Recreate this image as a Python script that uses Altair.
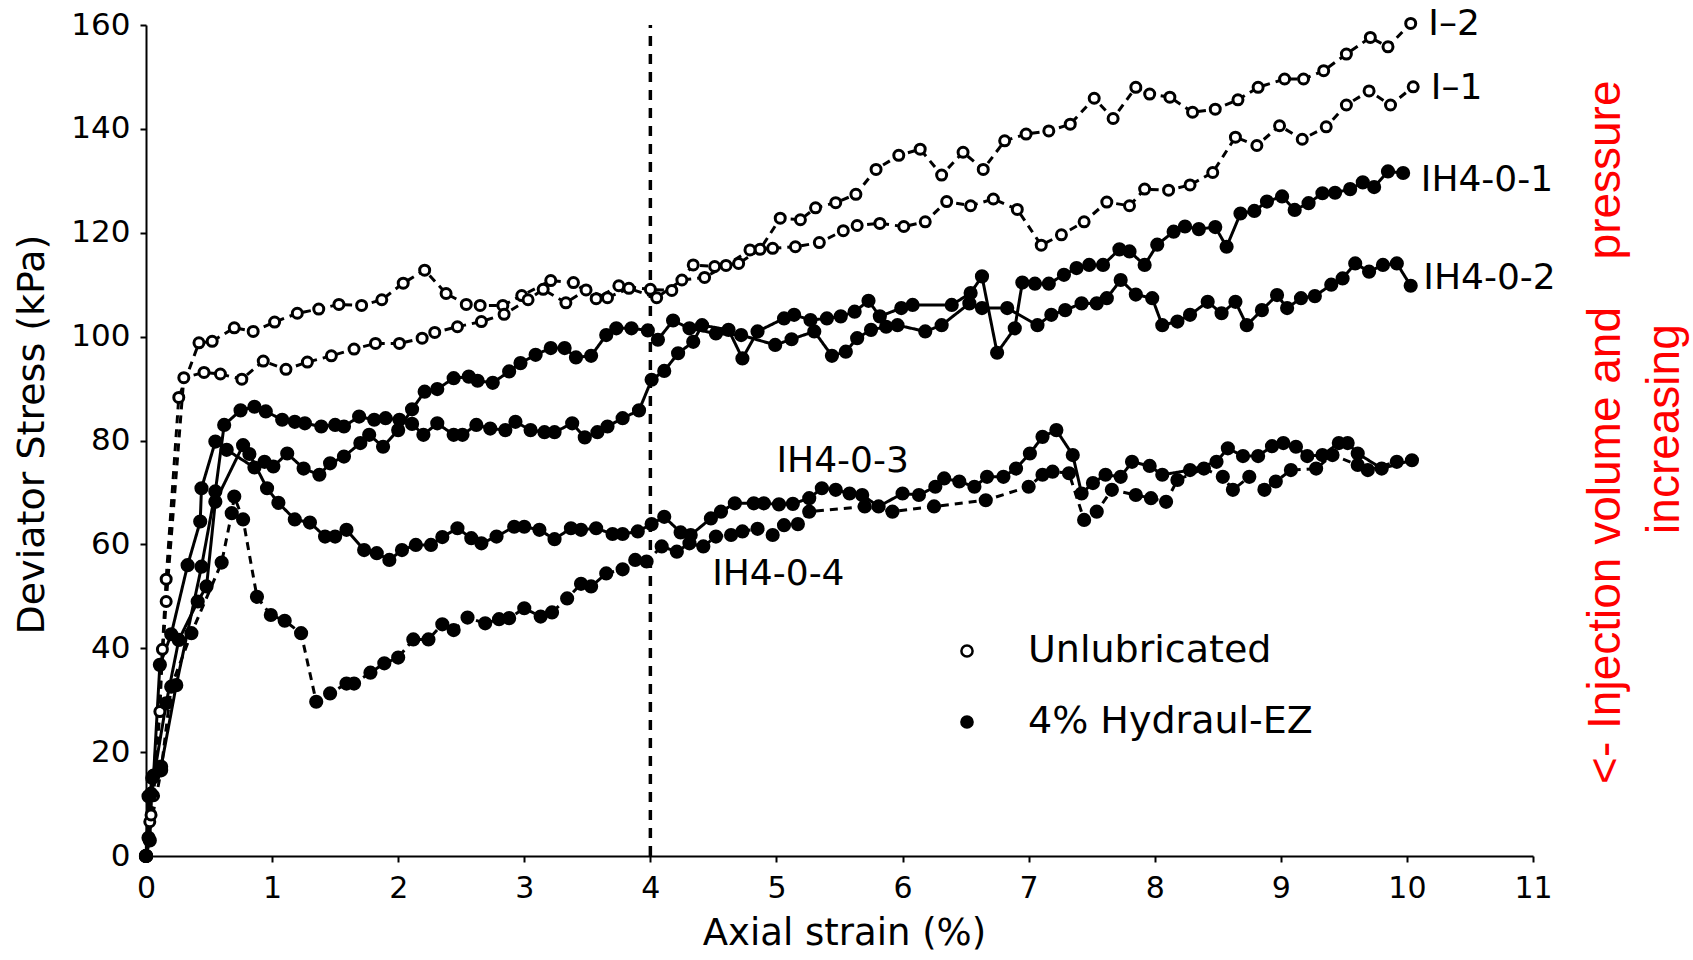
import altair as alt
import pandas as pd

# ---------------- data ----------------
I2_x = [0, 0.03, 0.06, 0.11, 0.13, 0.16, 0.26, 0.42, 0.525, 0.70, 0.85, 1.02, 1.20, 1.37, 1.53, 1.71, 1.87, 2.04, 2.21,
        2.38, 2.54, 2.65, 2.83, 2.98, 3.21, 3.39, 3.57, 3.75, 4.00, 4.17, 4.34, 4.51, 4.70, 4.87, 5.03, 5.19, 5.31, 5.47,
        5.63, 5.79, 5.97, 6.14, 6.31, 6.48, 6.64, 6.81, 6.98, 7.16, 7.33, 7.52, 7.67, 7.85, 7.96, 8.12, 8.30, 8.48, 8.66,
        8.82, 9.03, 9.18, 9.34, 9.52, 9.71, 9.85, 10.03]
I2_y = [0, 6.6, 11.6, 27.8, 39.8, 53.3, 88.3, 98.8, 99.1, 101.7, 101.0, 102.8, 104.5, 105.3, 106.2, 106.0, 107.1, 110.3, 112.8,
        108.3, 106.2, 106.0, 106.0, 107.9, 110.8, 110.4, 107.3, 109.8, 109.1, 108.9, 113.8, 113.5, 114.1, 116.8, 122.8, 122.5,
        124.8, 125.8, 127.4, 132.2, 134.9, 136.1, 131.1, 135.5, 132.2, 137.7, 139.0, 139.6, 140.9, 145.9, 142.0, 148.0, 146.7,
        146.1, 143.2, 143.8, 145.6, 148.0, 149.6, 149.6, 151.2, 154.4, 157.6, 155.8, 160.3]

I1_x = [0, 0.04, 0.16, 0.30, 0.46, 0.59, 0.76, 0.93, 1.11, 1.28, 1.47, 1.65, 1.82, 2.01, 2.19, 2.29, 2.47, 2.66, 2.84, 3.03,
        3.15, 3.33, 3.49, 3.66, 3.83, 4.05, 4.25, 4.43, 4.60, 4.79, 4.97, 5.15, 5.34, 5.53, 5.64, 5.82, 6.01, 6.18, 6.35, 6.54,
        6.72, 6.91, 7.10, 7.26, 7.44, 7.62, 7.80, 7.92, 8.11, 8.28, 8.46, 8.64, 8.81, 8.99, 9.17, 9.36, 9.52, 9.70, 9.87, 10.05]
I1_y = [0, 7.9, 49.0, 92.1, 93.1, 92.8, 91.8, 95.3, 93.7, 95.1, 96.3, 97.6, 98.7, 98.7, 99.7, 100.8, 101.9, 102.9, 104.3, 107.1,
        109.1, 106.5, 109.0, 107.5, 109.3, 107.5, 110.9, 111.4, 113.7, 116.7, 117.0, 117.3, 118.1, 120.4, 121.4, 121.8, 121.2,
        122.1, 126.0, 125.2, 126.5, 124.5, 117.6, 119.6, 122.1, 125.9, 125.2, 128.4, 128.2, 129.2, 131.6, 138.4, 136.8, 140.6,
        138.0, 140.4, 144.6, 147.3, 144.6, 148.1]

H1_x = [0, 0.03, 0.05, 0.12, 0.24, 0.44, 0.55, 0.62, 0.75, 0.86, 0.95, 1.08, 1.18, 1.26, 1.39, 1.50, 1.57, 1.69, 1.81, 1.90,
        2.01, 2.11, 2.20, 2.31, 2.44, 2.51, 2.62, 2.73, 2.85, 2.93, 3.05, 3.16, 3.24, 3.38, 3.48, 3.58, 3.66, 3.78, 3.91, 4.01,
        4.11, 4.22, 4.34, 4.41, 4.62, 4.73, 4.85, 5.06, 5.14, 5.27, 5.40, 5.51, 5.62, 5.73, 5.82, 5.99, 6.08, 6.39, 6.54, 6.63,
        6.75, 6.89, 6.95, 7.05, 7.16, 7.28, 7.38, 7.48, 7.59, 7.72, 7.80, 7.92, 8.02, 8.15, 8.24, 8.35, 8.48, 8.57, 8.68, 8.79,
        8.89, 9.01, 9.11, 9.22, 9.33, 9.43, 9.55, 9.65, 9.74, 9.85, 9.97]
H1_y = [0, 3.0, 15.0, 17.2, 32.9, 55.7, 70.2, 83.0, 85.8, 86.5, 85.6, 84.0, 83.6, 83.3, 82.7, 83.0, 82.7, 84.6, 84.0, 84.3,
        84.0, 83.2, 81.1, 83.3, 81.1, 81.1, 83.0, 82.3, 82.0, 83.6, 82.0, 81.6, 81.6, 83.3, 80.6, 81.6, 82.7, 84.3, 85.8, 91.7,
        93.4, 96.8, 99.0, 102.2, 101.3, 95.8, 101.0, 103.5, 104.2, 103.2, 103.5, 103.9, 104.8, 106.9, 103.9, 105.5, 106.1, 106.1,
        108.4, 111.6, 96.9, 101.6, 110.4, 110.2, 110.2, 111.9, 113.2, 113.8, 113.8, 116.8, 116.4, 113.8, 117.7, 120.2, 121.2,
        120.7, 121.1, 117.3, 123.7, 124.2, 126.0, 127.0, 124.4, 125.7, 127.6, 127.7, 128.4, 129.7, 128.8, 131.8, 131.5]

H2_x = [0, 0.02, 0.06, 0.11, 0.20, 0.33, 0.43, 0.44, 0.55, 0.64, 0.86, 0.94, 1.01, 1.12, 1.25, 1.375, 1.46, 1.57, 1.70, 1.77,
        1.88, 2.00, 2.11, 2.21, 2.31, 2.44, 2.56, 2.63, 2.75, 2.88, 2.97, 3.09, 3.21, 3.32, 3.41, 3.53, 3.65, 3.73, 3.85, 3.98,
        4.06, 4.18, 4.31, 4.52, 4.72, 4.99, 5.12, 5.30, 5.44, 5.55, 5.64, 5.75, 5.87, 5.96, 6.18, 6.31, 6.53, 6.63, 6.83, 7.07,
        7.18, 7.29, 7.42, 7.54, 7.62, 7.73, 7.85, 7.98, 8.06, 8.18, 8.28, 8.42, 8.53, 8.64, 8.73, 8.85, 8.97, 9.05, 9.16, 9.27,
        9.40, 9.49, 9.59, 9.70, 9.81, 9.92, 10.03]
H2_y = [0, 11.5, 15.5, 36.8, 42.7, 56.0, 64.4, 70.8, 79.8, 78.2, 74.8, 75.9, 75.0, 77.5, 74.6, 73.4, 75.6, 76.9, 79.5, 81.1,
        78.8, 82.0, 86.0, 89.4, 89.9, 92.0, 92.3, 91.5, 91.1, 93.3, 94.9, 96.5, 97.8, 97.8, 96.0, 96.3, 100.3, 101.6, 101.6,
        101.2, 99.4, 103.1, 101.6, 100.6, 100.3, 98.4, 99.5, 101.0, 96.3, 97.1, 99.7, 101.3, 101.9, 102.2, 101.0, 102.2, 106.4,
        105.5, 105.5, 102.2, 104.2, 105.1, 106.4, 106.4, 107.4, 110.9, 108.1, 107.4, 102.2, 102.9, 104.2, 106.7, 104.5, 106.7,
        102.2, 105.1, 108.0, 105.5, 107.4, 107.8, 110.0, 111.2, 114.1, 112.5, 113.8, 114.1, 109.8]

H3_x = [0, 0.04, 0.16, 0.26, 0.41, 0.48, 0.55, 0.77, 0.82, 0.96, 1.05, 1.18, 1.30, 1.42, 1.50, 1.59, 1.73, 1.83, 1.93, 2.03,
        2.14, 2.26, 2.35, 2.47, 2.58, 2.66, 2.78, 2.92, 3.00, 3.12, 3.24, 3.37, 3.45, 3.57, 3.70, 3.78, 3.90, 4.01, 4.11, 4.24,
        4.32, 4.48, 4.56, 4.67, 4.82, 4.90, 5.02, 5.13, 5.26, 5.36, 5.47, 5.58, 5.68, 5.81, 6.00, 6.13, 6.26, 6.33, 6.45, 6.57,
        6.67, 6.80, 6.90, 7.01, 7.11, 7.22, 7.35, 7.42, 7.51, 7.61, 7.73, 7.82, 7.96, 8.06, 8.28, 8.49, 8.58, 8.70, 8.82, 8.93,
        9.02, 9.12, 9.21, 9.33, 9.46, 9.53, 9.61, 9.80, 10.04]
H3_y = [0, 12.0, 29.4, 41.6, 49.0, 51.9, 68.2, 79.1, 77.4, 70.8, 68.0, 64.8, 64.2, 61.5, 61.5, 62.8, 58.9, 58.3, 57.0, 58.9,
        59.9, 59.9, 61.4, 63.1, 61.2, 60.2, 61.5, 63.4, 63.4, 62.8, 61.0, 63.1, 62.8, 63.1, 62.0, 62.0, 62.5, 63.9, 65.3, 62.3,
        61.8, 65.0, 66.3, 67.9, 67.9, 67.9, 67.7, 67.8, 68.9, 70.8, 70.5, 69.8, 69.5, 67.3, 69.8, 69.5, 71.1, 72.7, 72.1, 71.1,
        73.0, 73.0, 74.6, 77.5, 80.7, 82.0, 77.2, 69.8, 71.8, 73.4, 73.0, 75.9, 75.1, 73.4, 74.3, 75.9, 78.5, 77.0, 77.0, 78.9,
        79.5, 78.8, 77.0, 77.2, 79.5, 79.5, 77.5, 74.6, 76.2]

H4_x = [0, 0.02, 0.12, 0.20, 0.36, 0.60, 0.68, 0.70, 0.77, 0.88, 0.99, 1.10, 1.23, 1.35, 1.46, 1.59, 1.65, 1.78, 1.89, 2.00,
        2.12, 2.24, 2.35, 2.44, 2.55, 2.69, 2.80, 2.88, 3.00, 3.13, 3.22, 3.34, 3.45, 3.53, 3.65, 3.78, 3.88, 3.97, 4.09, 4.21,
        4.31, 4.42, 4.52, 4.64, 4.73, 4.85, 4.97, 5.06, 5.17, 5.26, 5.70, 5.92, 6.25, 6.66, 7.00, 7.11, 7.19, 7.32, 7.44, 7.54,
        7.66, 7.85, 7.97, 8.09, 8.18, 8.39, 8.54, 8.62, 8.75, 8.87, 8.96, 9.08, 9.28, 9.41, 9.61, 9.69, 9.92]
H4_y = [0, 3.5, 16.5, 32.6, 42.9, 56.5, 66.0, 69.2, 64.8, 49.9, 46.4, 45.3, 42.9, 29.7, 31.3, 33.2, 33.2, 35.3, 37.1, 38.2,
        41.7, 41.7, 44.6, 43.5, 45.9, 44.8, 45.6, 45.8, 47.7, 46.1, 46.9, 49.6, 52.4, 51.9, 54.4, 55.2, 57.0, 56.7, 59.6, 58.6,
        60.2, 59.6, 61.5, 61.8, 62.5, 63.0, 61.8, 63.7, 63.9, 66.3, 67.3, 66.3, 67.3, 68.5, 71.1, 73.4, 74.0, 73.7, 64.7, 66.3,
        70.5, 69.5, 68.9, 68.2, 72.4, 74.6, 73.0, 70.5, 73.0, 70.5, 72.1, 74.3, 74.6, 77.2, 75.3, 74.3, 75.9]

series_names = ["I-2", "I-1", "IH4-0-1", "IH4-0-2", "IH4-0-3", "IH4-0-4"]
series_groups = ["Unlubricated", "Unlubricated", "4% Hydraul-EZ", "4% Hydraul-EZ", "4% Hydraul-EZ", "4% Hydraul-EZ"]
series_styles = ["dashed", "dashed", "solid", "solid", "solid", "dashed"]
series_xy = [(I2_x, I2_y), (I1_x, I1_y), (H1_x, H1_y), (H2_x, H2_y), (H3_x, H3_y), (H4_x, H4_y)]

label_text = ["I\u20132", "I\u20131", "IH4-0-1", "IH4-0-2", "IH4-0-3", "IH4-0-4"]
label_x = [10.17, 10.19, 10.11, 10.13, 5.00, 4.49]
label_y = [160.2, 147.9, 130.2, 111.2, 76.0, 54.3]

note_text = ["<- Injection volume and\u00a0\u00a0\u00a0\u2009pressure", "increasing"]
note_x = [11.58, 12.05]
note_y = [81.6, 82.2]

marker_x = [4]
marker_y = [0]
marker_y2 = [160]

x_ticks = list(range(0, 12))
y_ticks = list(range(0, 161, 20))

# ---------------- build tables ----------------
frames = []
for name, grp, sty, (xs, ys) in zip(series_names, series_groups, series_styles, series_xy):
    n = min(len(xs), len(ys))
    frames.append(pd.DataFrame({"strain": xs[:n], "stress": ys[:n], "series": name,
                                "group": grp, "style": sty, "order": list(range(n))}))
df = pd.concat(frames, ignore_index=True)

labels_df = pd.DataFrame({"strain": label_x, "stress": label_y, "text": label_text})
note_df = pd.DataFrame({"strain": note_x, "stress": note_y, "text": note_text})
vline_df = pd.DataFrame({"strain": marker_x, "stress": marker_y, "stress2": marker_y2})

FONT = "DejaVu Sans"

x_axis = alt.Axis(values=x_ticks, format="d", title="Axial strain (%)", grid=False, labelFlush=False,
                  labelFont=FONT, labelFontSize=30, labelColor="black", labelPadding=11,
                  tickSize=6, tickWidth=2, tickColor="black", domainColor="black", domainWidth=2,
                  titleFont=FONT, titleFontSize=37, titleFontWeight="normal", titleColor="black",
                  titleX=698, titleY=88, titleBaseline="alphabetic", titleAlign="center")
y_axis = alt.Axis(values=y_ticks, format="d", title="Deviator Stress (kPa)", grid=False, labelFlush=False,
                  labelFont=FONT, labelFontSize=31, labelColor="black", labelPadding=10,
                  tickSize=6, tickWidth=2, tickColor="black", domainColor="black", domainWidth=2,
                  titleFont=FONT, titleFontSize=38, titleFontWeight="normal", titleColor="black",
                  titleX=-103, titleY=409, titleAngle=270, titleBaseline="alphabetic", titleAlign="center")

X = alt.X("strain:Q", scale=alt.Scale(domain=[0, 11], nice=False, zero=False), axis=x_axis)
Y = alt.Y("stress:Q", scale=alt.Scale(domain=[0, 160], nice=False, zero=False), axis=y_axis)

vline = alt.Chart(vline_df).mark_rule(color="black", strokeWidth=3.5, strokeDash=[10, 8]).encode(
    x=X, y=Y, y2="stress2:Q")

lines = alt.Chart(df).mark_line(color="black", strokeWidth=3).encode(
    x=X, y=Y, detail="series:N", order="order:Q",
    strokeDash=alt.StrokeDash("style:N", scale=alt.Scale(domain=["solid", "dashed"], range=[[1, 0], [8, 6]]),
                              legend=None))

points = alt.Chart(df).mark_point(filled=True, shape="circle", stroke="black", strokeWidth=3, opacity=1).encode(
    x=X, y=Y,
    fill=alt.Fill("group:N", scale=alt.Scale(domain=["Unlubricated", "4% Hydraul-EZ"], range=["white", "black"]),
                  legend=alt.Legend(title=None, orient="none", legendX=802, legendY=607, padding=0,
                                    labelFont=FONT, labelFontSize=38, labelColor="black", labelOffset=42,
                                    labelLimit=0, rowPadding=33, symbolType="circle", symbolSize=125,
                                    symbolStrokeWidth=2.5, symbolStrokeColor="black")),
    size=alt.condition(alt.datum.group == "Unlubricated", alt.value(100), alt.value(125)))

labels = alt.Chart(labels_df).mark_text(align="left", baseline="middle", font=FONT, fontSize=36,
                                         color="black").encode(x=X, y=Y, text="text:N")

notes = alt.Chart(note_df).mark_text(align="center", baseline="middle", font="Liberation Sans", fontSize=46,
                                      color="red", angle=270).encode(x=X, y=Y, text="text:N")

chart = alt.layer(vline, lines, points, labels, notes).properties(
    width=1387, height=831,
    autosize=alt.AutoSizeParams(type="none"),
    padding={"left": 146, "top": 25, "right": 160, "bottom": 104},
    background="white",
).configure_view(stroke=None)

chart.save("out.html", embed_options={"renderer": "svg", "actions": False})
